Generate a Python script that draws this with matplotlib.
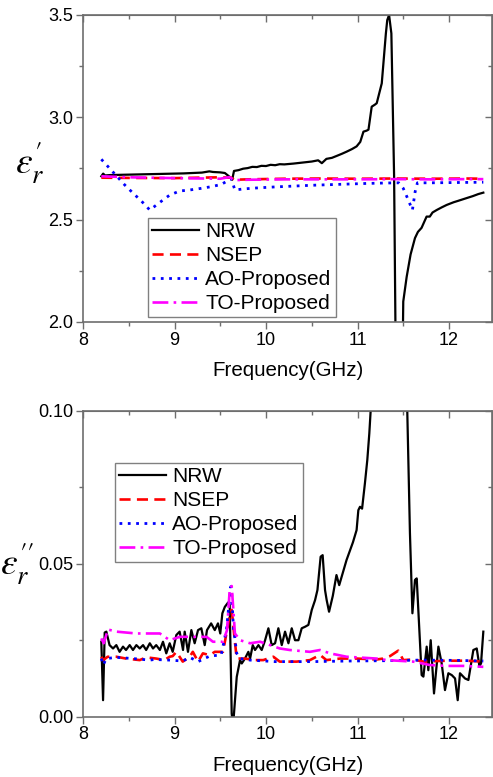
import matplotlib

matplotlib.use("Agg")
import matplotlib.pyplot as plt
from matplotlib.ticker import MultipleLocator, FormatStrFormatter

plt.rcParams["font.family"] = ["Liberation Sans", "DejaVu Sans"]
plt.rcParams["mathtext.fontset"] = "stix"

# ---- real part (top panel) ----
f_nrw_re = [8.20, 8.22, 8.24, 8.30, 8.40, 8.50, 8.60, 8.70, 8.80, 8.90, 9.00, 9.10,
            9.20, 9.30, 9.38, 9.42, 9.50, 9.55, 9.60, 9.63, 9.65, 9.70, 9.75, 9.80,
            9.85, 9.90, 9.95, 10.00, 10.05, 10.10, 10.15, 10.20, 10.30, 10.40, 10.50,
            10.57, 10.61, 10.66, 10.72, 10.77, 10.83, 10.88, 10.94, 10.99, 11.03,
            11.065, 11.10, 11.12, 11.155, 11.19, 11.21, 11.265, 11.28, 11.31, 11.325,
            11.345, 11.37, 11.40, 11.43, 11.47, 11.50, 11.537, 11.58, 11.628, 11.66,
            11.70, 11.755, 11.79, 11.82, 11.865, 11.92, 11.975, 12.05, 12.10, 12.19,
            12.26, 12.32, 12.375]
nrw_re = [2.712, 2.725, 2.716, 2.718, 2.719, 2.720, 2.721, 2.722, 2.723, 2.724, 2.725,
          2.726, 2.728, 2.730, 2.736, 2.733, 2.731, 2.728, 2.710, 2.695, 2.738, 2.742,
          2.749, 2.752, 2.758, 2.757, 2.763, 2.762, 2.768, 2.766, 2.771, 2.770, 2.774,
          2.779, 2.784, 2.790, 2.776, 2.797, 2.802, 2.811, 2.822, 2.832, 2.845, 2.858,
          2.880, 2.930, 2.935, 2.940, 3.052, 3.062, 3.069, 3.166, 3.247, 3.410, 3.475,
          3.500, 3.410, 2.710, 1.200, 1.000, 2.100, 2.220, 2.330, 2.410, 2.440, 2.460,
          2.515, 2.515, 2.535, 2.547, 2.560, 2.572, 2.585, 2.592, 2.605, 2.615, 2.625,
          2.632]

f_nsep_re = [8.20, 8.50, 9.00, 9.50, 9.62, 9.65, 9.80, 10.20, 10.60, 11.00, 11.40,
             11.80, 12.20, 12.375]
nsep_re = [2.705, 2.704, 2.703, 2.707, 2.705, 2.695, 2.697, 2.700, 2.701, 2.700,
           2.701, 2.700, 2.701, 2.700]

f_ao_re = [8.20, 8.29, 8.455, 8.546, 8.64, 8.73, 8.856, 8.947, 9.056, 9.166, 9.293,
           9.40, 9.51, 9.62, 9.66, 9.75, 9.90, 10.10, 10.30, 10.50, 10.70, 10.90,
           11.10, 11.30, 11.45, 11.50, 11.555, 11.60, 11.63, 11.655, 11.80, 12.00,
           12.20, 12.375]
ao_re = [2.795, 2.751, 2.670, 2.630, 2.590, 2.547, 2.590, 2.620, 2.640, 2.645, 2.653,
         2.661, 2.672, 2.700, 2.645, 2.650, 2.655, 2.660, 2.664, 2.668, 2.671, 2.674,
         2.677, 2.679, 2.680, 2.653, 2.596, 2.547, 2.637, 2.680, 2.680, 2.681, 2.682,
         2.683]

f_to_re = [8.20, 8.50, 9.00, 9.50, 9.60, 9.65, 9.80, 10.20, 10.60, 11.00, 11.40,
           11.80, 12.20, 12.375]
to_re = [2.712, 2.707, 2.703, 2.700, 2.708, 2.693, 2.695, 2.697, 2.697, 2.697, 2.698,
         2.697, 2.698, 2.698]

# ---- imaginary part (bottom panel) ----
f_nrw_im = [8.200, 8.219, 8.237, 8.255, 8.290, 8.328, 8.364, 8.400, 8.437, 8.470,
            8.510, 8.546, 8.583, 8.620, 8.656, 8.690, 8.730, 8.765, 8.800, 8.840,
            8.874, 8.910, 8.947, 8.980, 9.020, 9.056, 9.093, 9.111, 9.147, 9.184,
            9.220, 9.257, 9.293, 9.330, 9.355, 9.400, 9.440, 9.475, 9.500, 9.523,
            9.550, 9.585, 9.603, 9.625, 9.640, 9.680, 9.716, 9.735, 9.770, 9.807,
            9.826, 9.855, 9.880, 9.917, 9.953, 9.990, 10.026, 10.062, 10.099, 10.135,
            10.172, 10.208, 10.245, 10.281, 10.317, 10.354, 10.390, 10.427, 10.463,
            10.500, 10.536, 10.562, 10.597, 10.619, 10.645, 10.663, 10.689, 10.730,
            10.770, 10.800, 10.880, 10.950, 10.990, 11.009, 11.027, 11.050, 11.081,
            11.107, 11.129, 11.143, 11.200, 11.350, 11.500, 11.544, 11.573, 11.600,
            11.628, 11.647, 11.701, 11.720, 11.756, 11.774, 11.800, 11.836, 11.884,
            11.920, 11.956, 11.993, 12.030, 12.066, 12.095, 12.120, 12.175, 12.212,
            12.266, 12.303, 12.332, 12.350, 12.375]
nrw_im = [0.0245, 0.0054, 0.0275, 0.0278, 0.0234, 0.0223, 0.0234, 0.0212, 0.0229,
          0.0218, 0.0234, 0.0218, 0.0234, 0.0223, 0.0234, 0.0218, 0.0240, 0.0223,
          0.0234, 0.0218, 0.0245, 0.0207, 0.0240, 0.0212, 0.0267, 0.0278, 0.0218,
          0.0278, 0.0212, 0.0283, 0.0240, 0.0283, 0.0289, 0.0234, 0.0283, 0.0305,
          0.0283, 0.0305, 0.0272, 0.0338, 0.0359, 0.0373, 0.0365, 0.0010, -0.0030,
          0.0130, 0.0185, 0.0174, 0.0190, 0.0212, 0.0190, 0.0234, 0.0218, 0.0234,
          0.0218, 0.0250, 0.0289, 0.0234, 0.0240, 0.0289, 0.0234, 0.0278, 0.0240,
          0.0289, 0.0250, 0.0250, 0.0289, 0.0294, 0.0300, 0.0349, 0.0381, 0.0414,
          0.0523, 0.0528, 0.0414, 0.0381, 0.0343, 0.0395, 0.0463, 0.0430, 0.0512,
          0.0570, 0.0610, 0.0675, 0.0686, 0.0680, 0.0763, 0.0839, 0.0926, 0.0997,
          0.1400, 0.2000, 0.1400, 0.0997, 0.0600, 0.0338, 0.0447, 0.0452, 0.0136,
          0.0131, 0.0229, 0.0152, 0.0250, 0.0076, 0.0229, 0.0174, 0.0087, 0.0142,
          0.0136, 0.0125, 0.0054, 0.0142, 0.0125, 0.0120, 0.0218, 0.0223, 0.0166,
          0.0174, 0.0278]

f_nsep_im = [8.20, 8.22, 8.27, 8.364, 8.47, 8.62, 8.69, 8.80, 8.89, 8.947, 8.98,
             9.02, 9.09, 9.166, 9.20, 9.257, 9.31, 9.384, 9.44, 9.53, 9.574, 9.607,
             9.625, 9.66, 9.68, 9.77, 9.88, 9.97, 10.08, 10.15, 10.335, 10.48, 10.59,
             10.66, 10.81, 10.99, 11.21, 11.28, 11.355, 11.446, 11.50, 11.61, 11.72,
             11.975, 12.19, 12.375]
nsep_im = [0.0196, 0.0185, 0.0196, 0.0196, 0.0190, 0.0185, 0.0194, 0.0190, 0.0185,
           0.0196, 0.0198, 0.0212, 0.0180, 0.0196, 0.0212, 0.0180, 0.0207, 0.0201,
           0.0212, 0.0212, 0.0283, 0.0338, 0.0349, 0.0245, 0.0190, 0.0190, 0.0185,
           0.0185, 0.0196, 0.0180, 0.0180, 0.0185, 0.0202, 0.0185, 0.0190, 0.0190,
           0.0187, 0.0190, 0.0198, 0.0216, 0.0185, 0.0187, 0.0180, 0.0183, 0.0183,
           0.0180]

f_ao_im = [8.20, 8.22, 8.255, 8.364, 8.546, 8.73, 8.78, 8.947, 9.09, 9.166, 9.257,
           9.384, 9.51, 9.567, 9.603, 9.615, 9.625, 9.643, 9.68, 9.716, 9.826, 10.10,
           10.50, 10.90, 11.30, 11.70, 12.10, 12.375]
ao_im = [0.0190, 0.0169, 0.0190, 0.0194, 0.0190, 0.0185, 0.0187, 0.0185, 0.0182,
         0.0194, 0.0180, 0.0198, 0.0202, 0.0283, 0.0390, 0.0425, 0.0403, 0.0294,
         0.0207, 0.0190, 0.0185, 0.0180, 0.0180, 0.0182, 0.0183, 0.0185, 0.0184,
         0.0182]

f_to_im = [8.20, 8.226, 8.273, 8.364, 8.583, 8.84, 8.947, 9.056, 9.24, 9.35, 9.42,
           9.53, 9.574, 9.603, 9.625, 9.643, 9.66, 9.716, 9.826, 9.935, 10.044,
           10.15, 10.26, 10.48, 10.59, 10.70, 10.88, 11.21, 11.32, 11.61, 11.79,
           11.975, 12.157, 12.375]
to_im = [0.0256, 0.0240, 0.0285, 0.0278, 0.0272, 0.0272, 0.0250, 0.0261, 0.0261,
         0.0261, 0.0245, 0.0245, 0.0283, 0.0414, 0.0427, 0.0349, 0.0272, 0.0250,
         0.0240, 0.0245, 0.0234, 0.0223, 0.0218, 0.0212, 0.0218, 0.0207, 0.0196,
         0.0190, 0.0185, 0.0180, 0.0169, 0.0166, 0.0166, 0.0163]

labels = ["NRW", "NSEP", "AO-Proposed", "TO-Proposed"]
GRAY = "#6e6e6e"

fig = plt.figure(figsize=(4.93, 7.77), dpi=100)
ax1 = fig.add_axes([0.1684, 0.5856, 0.8296, 0.3951])
ax2 = fig.add_axes([0.1684, 0.0776, 0.8296, 0.3938])


def draw(ax, nrw, nsep, ao, to):
    ax.plot(*nrw, color="black", lw=1.6, label=labels[0])
    ax.plot(*nsep, color="#ff0000", lw=1.9, ls=(0, (4.2, 2.4)), label=labels[1])
    ax.plot(*ao, color="#0000ff", lw=2.0, ls=(0, (1, 2)), label=labels[2])
    ax.plot(*to, color="#ff00ff", lw=1.9, ls=(0, (6, 2, 1, 2)), label=labels[3])


draw(ax1, (f_nrw_re, nrw_re), (f_nsep_re, nsep_re), (f_ao_re, ao_re), (f_to_re, to_re))
draw(ax2, (f_nrw_im, nrw_im), (f_nsep_im, nsep_im), (f_ao_im, ao_im), (f_to_im, to_im))

ax1.set_ylim(2.0, 3.5)
ax1.yaxis.set_major_locator(MultipleLocator(0.5))
ax1.yaxis.set_minor_locator(MultipleLocator(0.25))
ax1.yaxis.set_major_formatter(FormatStrFormatter("%.1f"))
ax2.set_ylim(0.0, 0.10)
ax2.yaxis.set_major_locator(MultipleLocator(0.05))
ax2.yaxis.set_minor_locator(MultipleLocator(0.025))
ax2.yaxis.set_major_formatter(FormatStrFormatter("%.2f"))

for ax in (ax1, ax2):
    ax.set_xlim(8, 12.47)
    ax.xaxis.set_major_locator(MultipleLocator(1))
    ax.xaxis.set_minor_locator(MultipleLocator(0.5))
    for s in ax.spines.values():
        s.set_color(GRAY)
        s.set_linewidth(1.2)
    ax.tick_params(which="both", direction="out", color=GRAY, width=1.0,
                   labelsize=13, pad=2)
    ax.tick_params(which="major", length=5)
    ax.tick_params(which="minor", length=3)
    ax.set_xlabel("Frequency(GHz)", fontsize=14.8, labelpad=9)
    # inward ticks on the top and right frame lines
    top = ax.secondary_xaxis("top")
    top.xaxis.set_major_locator(MultipleLocator(1))
    top.xaxis.set_minor_locator(MultipleLocator(0.5))
    top.tick_params(which="both", direction="in", color=GRAY, width=1.0,
                    labeltop=False)
    top.tick_params(which="major", length=5)
    top.tick_params(which="minor", length=3)
    top.spines["top"].set_color(GRAY)
    right = ax.secondary_yaxis("right")
    right.yaxis.set_major_locator(ax.yaxis.get_major_locator())
    right.yaxis.set_minor_locator(ax.yaxis.get_minor_locator())
    right.tick_params(which="both", direction="in", color=GRAY, width=1.0,
                      labelright=False)
    right.tick_params(which="major", length=5)
    right.tick_params(which="minor", length=3)
    right.spines["right"].set_color(GRAY)

ax1.set_ylabel(r"$\varepsilon_r^{\prime}$", fontsize=27, rotation=0, va="center",
               ha="center")
ax1.yaxis.set_label_coords(-0.13, 0.52)
ax2.set_ylabel(r"$\varepsilon_r^{\prime\prime}$", fontsize=27, rotation=0, va="center",
               ha="center")
ax2.yaxis.set_label_coords(-0.16, 0.50)

leg_kw = dict(fontsize=15.0, handlelength=2.25, handletextpad=0.3, borderpad=0.2,
              labelspacing=0.24, fancybox=False, framealpha=1, edgecolor="#808080",
              loc="lower left", borderaxespad=0)
l1 = ax1.legend(bbox_to_anchor=(0.1585, 0.016), **leg_kw)
l2 = ax2.legend(bbox_to_anchor=(0.078, 0.5046), **leg_kw)
for lg in (l1, l2):
    lg.get_frame().set_linewidth(1.0)

fig.savefig("out.png", dpi=100)
